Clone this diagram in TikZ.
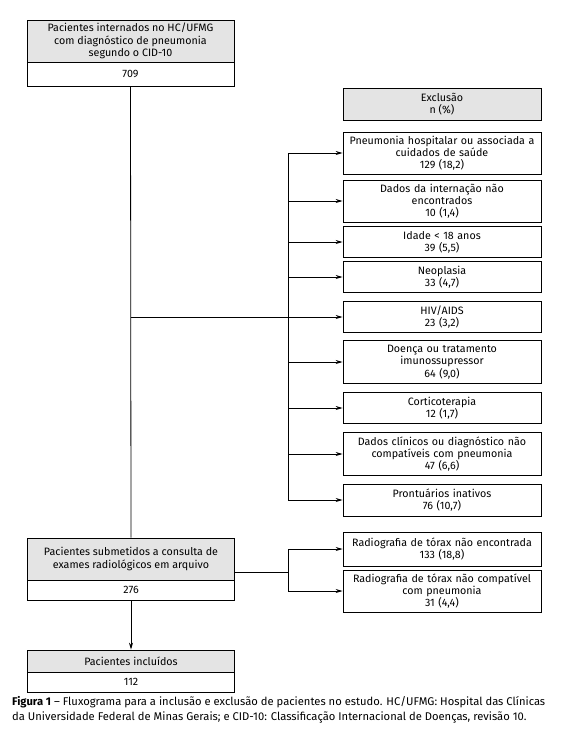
\documentclass[tikz,border=0pt]{standalone}
\usepackage{fontspec}
\setmainfont{Fira Sans}
\usetikzlibrary{arrows.meta}
\definecolor{boxgray}{HTML}{E4E4E4}
\begin{document}
\begin{tikzpicture}[x=1pt,y=-1pt,
  every node/.style={font=\fontsize{10.7}{12.2}\selectfont, inner sep=0pt, align=center},
  gbox/.style={draw, line width=0.8pt, fill=boxgray, minimum width=207pt},
  wbox/.style={draw, line width=0.8pt, fill=white, minimum width=207pt},
  rbox/.style={draw, line width=0.8pt, fill=white, minimum width=198pt, text width=196pt},
  conn/.style={line width=0.8pt},
  arr/.style={line width=0.8pt, -{Stealth[length=7pt,width=4pt]}}]
\useasboundingbox (0,0) rectangle (570,739);
% left column
\node[gbox, minimum height=42pt] (topg) at (130.5,41) {Pacientes internados no HC/UFMG\\com diagnóstico de pneumonia\\segundo o CID-10};
\node[wbox, minimum height=24pt] (topw) at (130.5,74) {709};
\node[gbox, minimum height=42pt] (subg) at (131,559) {Pacientes submetidos a consulta de\\exames radiológicos em arquivo};
\node[wbox, minimum height=20pt] (subw) at (131,590) {276};
\node[gbox, minimum height=22pt] (incg) at (131,661) {Pacientes incluídos};
\node[wbox, minimum height=20pt] (incw) at (131,682) {112};
% right column
\node[draw, line width=0.8pt, fill=boxgray, minimum width=198pt, minimum height=32pt] (exc) at (442,104) {Exclusão\\n (\%)};
\node[rbox, minimum height=42pt] (b1) at (442,153) {Pneumonia hospitalar ou associada a\\cuidados de saúde\\129 (18,2)};
\node[rbox, minimum height=42pt] (b2) at (442,201) {Dados da internação não\\encontrados\\10 (1,4)};
\node[rbox, minimum height=31pt] (b3) at (442,242) {Idade < 18 anos\\39 (5,5)};
\node[rbox, minimum height=31pt] (b4) at (442,277) {Neoplasia\\33 (4,7)};
\node[rbox, minimum height=31pt] (b5) at (442,317) {HIV/AIDS\\23 (3,2)};
\node[rbox, minimum height=43pt] (b6) at (442,362) {Doença ou tratamento\\imunossupressor\\64 (9,0)};
\node[rbox, minimum height=31pt] (b7) at (442,408) {Corticoterapia\\12 (1,7)};
\node[rbox, minimum height=43pt] (b8) at (442,454) {Dados clínicos ou diagnóstico não\\compatíveis com pneumonia\\47 (6,6)};
\node[rbox, minimum height=32pt] (b9) at (442,500) {Prontuários inativos\\76 (10,7)};
\node[rbox, minimum height=34pt] (r1) at (442,549) {Radiografia de tórax não encontrada\\133 (18,8)};
\node[rbox, minimum height=42pt] (r2) at (442,591) {Radiografia de tórax não compatível\\com pneumonia\\31 (4,4)};
% connectors
\coordinate (tj) at (131,317);
\coordinate (bx) at (288,0);
\coordinate (sx) at (288,572);
\draw[conn] (topw.south) -- (subg.north);
\draw[arr] (tj) -- (b5.west);
\draw[conn] (bx |- b1.west) -- (bx |- b9.west);
\foreach \b in {b1,b2,b3,b4,b6,b7,b8,b9}{
  \draw[arr] (bx |- \b.west) -- (\b.west);
}
\draw[conn] (subg.east |- sx) -- (sx);
\draw[conn] (bx |- r1.west) -- (bx |- r2.west);
\draw[arr] (bx |- r1.west) -- (r1.west);
\draw[arr] (bx |- r2.west) -- (r2.west);
\draw[arr] (subw.south) -- (incg.north);
% caption
\node[anchor=north west, align=left, font=\fontsize{11.2}{15.5}\selectfont] (cap) at (12,696)
  {\textbf{Figura 1} – Fluxograma para a inclusão e exclusão de pacientes no estudo. HC/UFMG: Hospital das Clínicas\\da Universidade Federal de Minas Gerais; e CID-10: Classificação Internacional de Doenças, revisão 10.};
\end{tikzpicture}
\end{document}
